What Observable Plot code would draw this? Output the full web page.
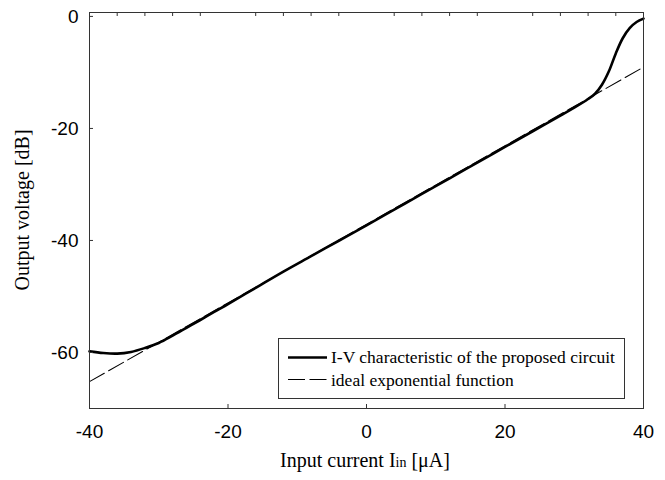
<!DOCTYPE html>
<html>
<head>
<meta charset="utf-8">
<script src="https://cdn.jsdelivr.net/npm/d3@7"></script>
<script src="https://cdn.jsdelivr.net/npm/@observablehq/plot@0.6"></script>
<style>
  html, body { margin: 0; padding: 0; background: #fff; }
  #chart { position: relative; width: 665px; height: 480px; }
</style>
</head>
<body>
<div id="chart"></div>
<script>
// ---- data ----
const measuredX = [-40, -38, -36, -34, -32, -30, -28, -26, -24, -22, -20, -16, -12, -8, -4, 0, 4, 8, 12, 16, 20, 24, 28, 30, 32, 33, 34, 35, 36, 37, 38, 39, 40];
const measuredY = [-59.8, -60.1, -60.2, -59.9, -59.2, -58.3, -57.0, -55.6, -54.2, -52.75, -51.35, -48.45, -45.55, -42.8, -40.05, -37.3, -34.5, -31.7, -28.9, -26.1, -23.3, -20.5, -17.7, -16.3, -14.75, -13.8, -12.2, -9.8, -6.6, -3.9, -2.1, -1.0, -0.4];
const idealX = [-40, 40];
const idealY = [-65.2, -9.05];
const xTickLabels = [-40, -20, 0, 20, 40];
const yTickLabels = [0, -20, -40, -60];
const bottomTicks = [-20, 0, 20];
const topTicks = [-36, -32, -28, -24, -16, -12, -8, -4, 4, 8, 12, 16, 24, 28, 32, 36];
const leftTicks = [0, -20, -40, -60];
const legendLabels = ["I-V characteristic of the proposed circuit", "ideal exponential function"];
const xLabel = ["Input current I", "in", " [\u03BCA]"];
const yLabel = "Output voltage [dB]";

const measured = measuredX.map((x, i) => ({x, y: measuredY[i]}));
const ideal = idealX.map((x, i) => ({x, y: idealY[i]}));

const W = 665, H = 480, mL = 89, mR = 22, mT = 12, mB = 72;
const innerW = W - mL - mR, innerH = H - mT - mB;
const tick = 4;
const fmt = d => String(d);

const chart = Plot.plot({
  width: W, height: H,
  marginLeft: mL, marginRight: mR, marginTop: mT, marginBottom: mB,
  style: {fontFamily: "'Liberation Sans', Arial, sans-serif", fontSize: "19px", color: "#000", background: "#fff"},
  x: {domain: [-40, 40]},
  y: {domain: [-70, 0.7]},
  marks: [
    Plot.line(ideal, {x: "x", y: "y", stroke: "#000", strokeWidth: 1.1, strokeDasharray: "17,5"}),
    Plot.line(measured, {x: "x", y: "y", stroke: "#000", strokeWidth: 2.6, curve: "catmull-rom"}),
    Plot.tickX(bottomTicks, {x: d => d, insetTop: innerH - tick, stroke: "#333"}),
    Plot.tickX(topTicks, {x: d => d, insetBottom: innerH - tick, stroke: "#333"}),
    Plot.tickY(leftTicks, {y: d => d, insetRight: innerW - tick, stroke: "#333"}),
    Plot.axisX(xTickLabels, {tickSize: 0, tickPadding: 16, label: null, fontSize: 19, tickFormat: fmt}),
    Plot.axisY(yTickLabels, {tickSize: 0, tickPadding: 11, label: null, fontSize: 19, tickFormat: fmt}),
    Plot.frame({stroke: "#333", strokeWidth: 1})
  ]
});
document.getElementById("chart").appendChild(chart);

const svg = d3.select(chart);
const serif = "'Liberation Serif', 'Times New Roman', serif";
// x label
const xt = svg.append("text")
  .attr("x", 365).attr("y", 467)
  .attr("text-anchor", "middle")
  .attr("font-family", serif).attr("font-size", 20).attr("fill", "#000");
xt.append("tspan").text(xLabel[0]);
xt.append("tspan").attr("font-size", 14).text(xLabel[1]);
xt.append("tspan").text(xLabel[2]);
// y label
svg.append("text")
  .attr("transform", "translate(29,210) rotate(-90)")
  .attr("text-anchor", "middle")
  .attr("font-family", serif).attr("font-size", 20).attr("fill", "#000")
  .text(yLabel);
// legend
const lg = svg.append("g");
lg.append("rect").attr("x", 278.5).attr("y", 338.5).attr("width", 346).attr("height", 60)
  .attr("fill", "#fff").attr("stroke", "#333").attr("stroke-width", 1);
lg.append("line").attr("x1", 288).attr("x2", 327).attr("y1", 357.5).attr("y2", 357.5)
  .attr("stroke", "#000").attr("stroke-width", 2.6);
lg.append("line").attr("x1", 288).attr("x2", 326.5).attr("y1", 379.5).attr("y2", 379.5)
  .attr("stroke", "#000").attr("stroke-width", 1.1).attr("stroke-dasharray", "17,4.5");
legendLabels.forEach((t, i) => {
  lg.append("text").attr("x", 331).attr("y", 363 + i * 22.5)
    .attr("text-anchor", "start")
    .attr("font-family", serif).attr("font-size", 17.5).attr("fill", "#000").text(t);
});
</script>
</body>
</html>
